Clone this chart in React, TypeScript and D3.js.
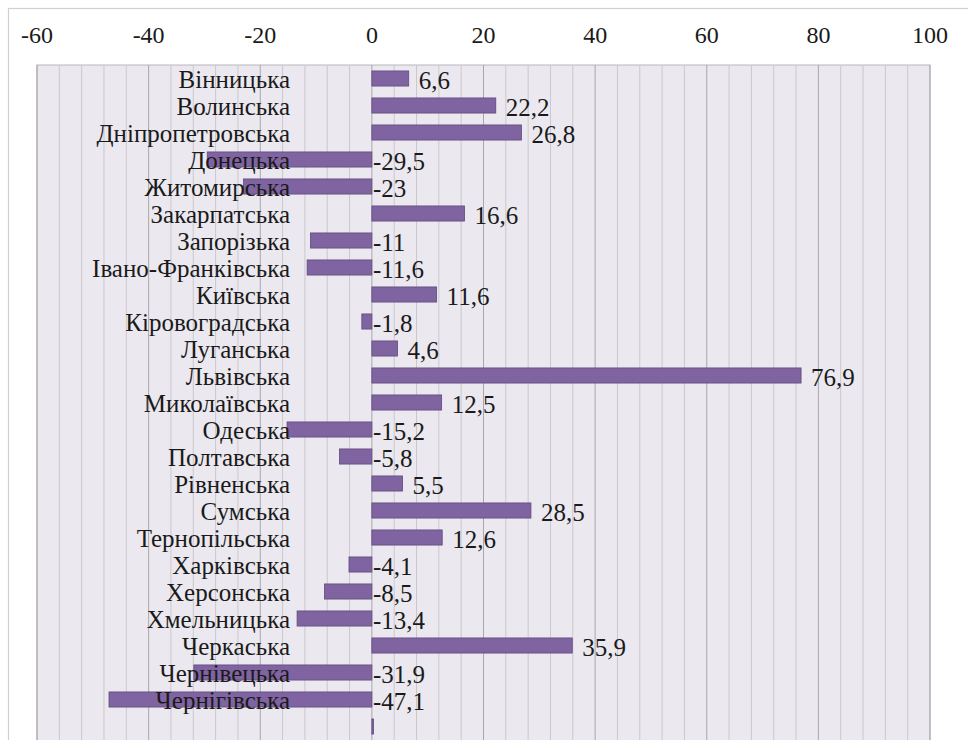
import React from "react";
import * as d3 from "d3";

const regions = [
  "Вінницька", "Волинська", "Дніпропетровська", "Донецька", "Житомирська",
  "Закарпатська", "Запорізька", "Івано-Франківська", "Київська", "Кіровоградська",
  "Луганська", "Львівська", "Миколаївська", "Одеська", "Полтавська",
  "Рівненська", "Сумська", "Тернопільська", "Харківська", "Херсонська",
  "Хмельницька", "Черкаська", "Чернівецька", "Чернігівська", "",
];
const values = [
  6.6, 22.2, 26.8, -29.5, -23,
  16.6, -11, -11.6, 11.6, -1.8,
  4.6, 76.9, 12.5, -15.2, -5.8,
  5.5, 28.5, 12.6, -4.1, -8.5,
  -13.4, 35.9, -31.9, -47.1, 0.3,
];
const showLabel = values.map((_, i) => regions[i] !== "");
const xTicks = [-60, -40, -20, 0, 20, 40, 60, 80, 100];
const minorTicks = d3.range(-60, 101, 4);

const W = 968;
const H = 740;
const plot = { left: 37, right: 930, top: 65 };
const band = 27;

export default function App() {
  const x = d3.scaleLinear().domain([-60, 100]).range([plot.left, plot.right]);
  const y = d3
    .scaleBand<number>()
    .domain(d3.range(regions.length))
    .range([plot.top, plot.top + band * regions.length])
    .paddingInner(0.44)
    .paddingOuter(0.22);
  const bottom = plot.top + band * regions.length + 20;
  const fmt = (v: number) => String(v).replace(".", ",");

  return (
    <svg
      width={W}
      height={H}
      style={{ position: "absolute", left: 0, top: 0, display: "block", fontFamily: "Liberation Serif" }}
    >
      <rect x={0} y={0} width={W} height={H} fill="#ffffff" />
      <rect x={8.5} y={8.5} width={W + 20} height={H + 20} fill="none" stroke="#d0d0d0" strokeWidth={1.2} />
      <rect x={plot.left} y={plot.top} width={plot.right - plot.left} height={bottom - plot.top} fill="#ebe9ef" stroke="#b8b6bb" strokeWidth={1} />
      {minorTicks.map((t) => (
        <line
          key={"g" + t}
          x1={x(t)}
          x2={x(t)}
          y1={plot.top}
          y2={bottom}
          stroke={t % 20 === 0 ? "#a9a7ac" : "#cac8cd"}
          strokeWidth={1}
        />
      ))}
      <g fontFamily="Liberation Serif" fontSize={24} fill="#1a1a1a">
        {xTicks.map((t) => (
          <text key={"t" + t} x={x(t)} y={43} textAnchor="middle">
            {t}
          </text>
        ))}
      </g>
      {values.map((v, i) => {
        const x0 = x(Math.min(0, v));
        const w = Math.abs(x(v) - x(0));
        return (
          <rect
            key={"b" + i}
            x={x0}
            y={y(i)}
            width={Math.max(w, 1)}
            height={y.bandwidth()}
            fill="#8064a2"
            stroke="#5f4a7d"
            strokeWidth={0.8}
          />
        );
      })}
      <g fontFamily="Liberation Serif" fontSize={25} fill="#1a1a1a">
        {regions.map((r, i) => (
          <text
            key={"c" + i}
            x={290}
            y={(y(i) as number) + y.bandwidth() / 2 + 9}
            textAnchor="end"
          >
            {r}
          </text>
        ))}
        {values.map((v, i) =>
          showLabel[i] ? (
            <text
              key={"v" + i}
              x={v >= 0 ? x(v) + 10 : x(0) + 1}
              y={(y(i) as number) + y.bandwidth() / 2 + 10}
              textAnchor="start"
            >
              {fmt(v)}
            </text>
          ) : null
        )}
      </g>
    </svg>
  );
}
